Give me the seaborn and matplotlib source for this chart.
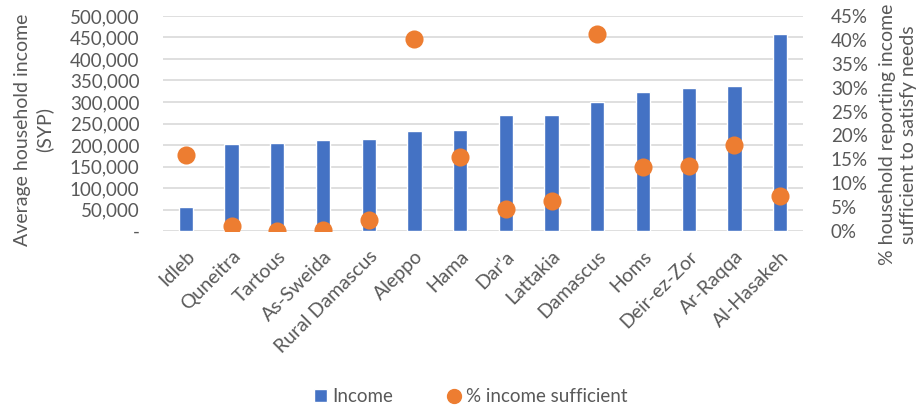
import numpy as np
import pandas as pd
import matplotlib
matplotlib.use("Agg")
import matplotlib.pyplot as plt
import seaborn as sns
from matplotlib.ticker import FuncFormatter, MultipleLocator
from matplotlib.patches import Patch
from matplotlib.lines import Line2D

governorates = ["Idleb", "Quneitra", "Tartous", "As-Sweida", "Rural Damascus", "Aleppo", "Hama",
                "Dar'a", "Lattakia", "Damascus", "Homs", "Deir-ez-Zor", "Ar-Raqqa", "Al-Hasakeh"]
income = [55000, 203000, 205000, 211500, 214000, 232500, 236000,
          270000, 270500, 301000, 322500, 332000, 336500, 458000]
pct_sufficient = [16.0, 1.0, 0.0, 0.2, 2.2, 40.1, 15.5,
                  4.7, 6.2, 41.2, 13.3, 13.7, 17.9, 7.3]

df = pd.DataFrame({"gov": governorates, "income": income, "pct": pct_sufficient})

sns.set_style("white")
plt.rcParams["font.family"] = ["Lato", "DejaVu Sans"]
grey = "#595959"
blue = "#4472C4"
orange = "#ED7D31"

fig = plt.figure(figsize=(9.23, 4.08), dpi=100)
ax = fig.add_axes([0.1766, 0.4338, 0.6934, 0.527])

sns.barplot(data=df, x="gov", y="income", color=blue, width=0.31, saturation=1, ax=ax)
ax.set_ylim(0, 500000)
ax.yaxis.set_major_locator(MultipleLocator(50000))
ax.yaxis.set_major_formatter(FuncFormatter(lambda v, p: "-" if v == 0 else f"{int(v):,}"))
ax.grid(axis="y", color="#D9D9D9", linewidth=1.2)
ax.set_axisbelow(True)
ax.set_xlabel("")
ax.set_ylabel("Average household income\n(SYP)", fontsize=14, color=grey, linespacing=1.3)
ax.yaxis.set_label_coords(-0.172, 0.47)
ax.tick_params(axis="both", length=0, labelsize=13.5, colors=grey)
ax.tick_params(axis="y", pad=17)
ax.tick_params(axis="x", pad=12, labelsize=14)
ax.set_xticks(range(len(governorates)))
ax.set_xticklabels(governorates, rotation=45, ha="right", rotation_mode="anchor")
for s in ax.spines.values():
    s.set_visible(False)

ax2 = ax.twinx()
sns.pointplot(data=df, x="gov", y="pct", color=orange, linestyle="none", marker="o",
              markersize=11, ax=ax2, errorbar=None)
ax2.set_ylim(0, 45)
ax2.yaxis.set_major_locator(MultipleLocator(5))
ax2.yaxis.set_major_formatter(FuncFormatter(lambda v, p: f"{int(round(v))}%"))
ax2.set_ylabel("% household reporting income\nsufficient to satisfy needs", fontsize=14,
               color=grey, linespacing=1.3)
ax2.yaxis.set_label_coords(1.118, 0.45)
ax2.tick_params(axis="both", length=0, labelsize=13.5, colors=grey)
ax2.tick_params(axis="y", pad=20)
ax2.set_xlim(-0.5, len(governorates) - 0.5)
ax.set_xlim(-0.5, len(governorates) - 0.5)
for s in ax2.spines.values():
    s.set_visible(False)

handles = [Patch(facecolor=blue, label="Income"),
           Line2D([], [], marker="o", linestyle="none", color=orange, markersize=10,
                  label="% income sufficient")]
fig.legend(handles=handles, loc="lower center", bbox_to_anchor=(0.51, -0.035), ncol=2,
           frameon=False, fontsize=13.5, labelcolor=grey, handlelength=0.7, handletextpad=0.3,
           columnspacing=2.9)

fig.savefig("out.png", dpi=100)
